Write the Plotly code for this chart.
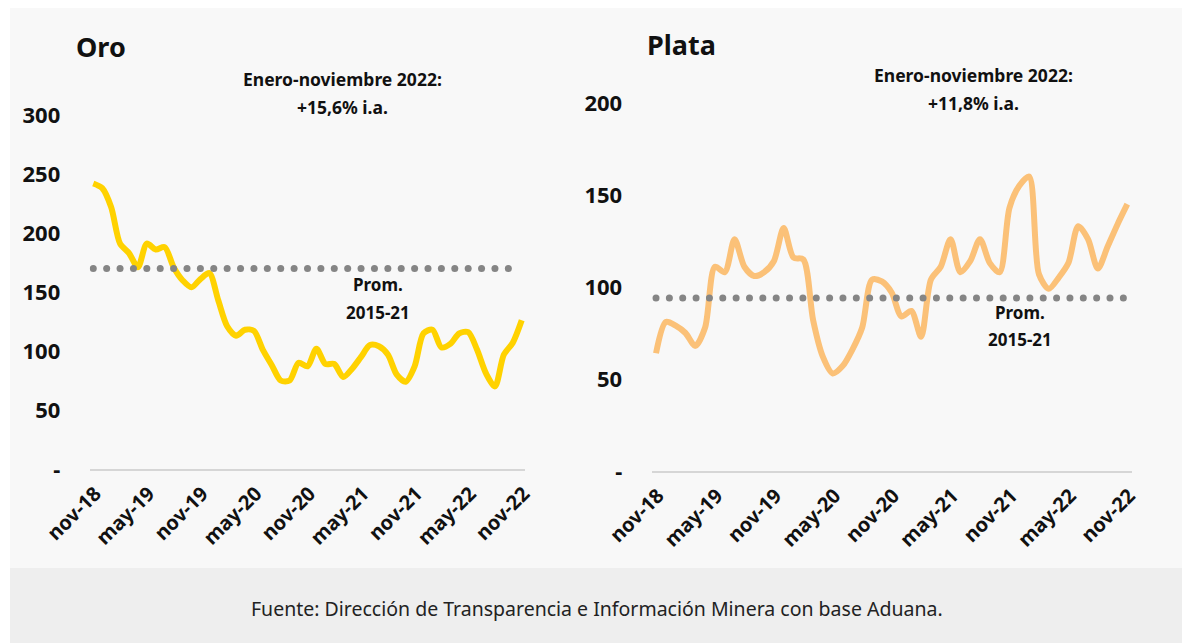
import numpy as np
import plotly.graph_objects as go

W, H = 1182, 643

# ---------------- data ----------------
mes_abbr = ["ene", "feb", "mar", "abr", "may", "jun", "jul", "ago", "sep", "oct", "nov", "dic"]
months = []
_y, _m = 2018, 10
for _ in range(49):
    months.append(f"{mes_abbr[_m]}-{str(_y)[2:]}")
    _m += 1
    if _m == 12:
        _m, _y = 0, _y + 1

oro = [242, 238, 222, 191, 183, 171, 191, 186, 188, 171, 160, 154, 161, 166, 143,
       121, 113, 118, 117, 101, 88, 75, 75, 90, 87, 102, 89, 89, 78, 85, 95, 105,
       104, 97, 80, 74, 87, 115, 118, 103, 106, 115, 116, 101, 81, 70, 97, 107, 126]
plata = [64, 81, 79, 75, 68, 78, 111, 108, 126, 111, 106, 108, 114, 132, 116, 115,
         82, 62, 53, 57, 66, 78, 104, 103, 97, 84, 87, 73, 104, 111, 126, 108, 114,
         126, 113, 108, 143, 155, 160, 107, 99, 105, 113, 133, 126, 110, 122, 134, 145]
prom_oro = 170
prom_plata = 94

oro_ticks = [0, 50, 100, 150, 200, 250, 300]
oro_ticktext = ["-", "50", "100", "150", "200", "250", "300"]
plata_ticks = [0, 50, 100, 150, 200]
plata_ticktext = ["-", "50", "100", "150", "200"]

# ---------------- helpers ----------------
def px(x):
    return x / W

def py(y):
    return 1 - y / H

idx = np.arange(len(months))
tickidx = idx[::6]
ticklab = [months[i] for i in tickidx]

BOLD = dict(family="Noto Sans", color="#111111", weight="bold")

fig = go.Figure()

fig.add_trace(go.Scatter(x=idx, y=oro, mode="lines", xaxis="x", yaxis="y",
                         line=dict(color="#FFD200", width=6, shape="spline", smoothing=0.8),
                         hoverinfo="skip", showlegend=False))
dots_l = np.arange(0, 46.6, 1.5)
fig.add_trace(go.Scatter(x=dots_l, y=[prom_oro] * len(dots_l), mode="markers", xaxis="x", yaxis="y",
                         marker=dict(color="#858585", size=7), hoverinfo="skip", showlegend=False))

fig.add_trace(go.Scatter(x=idx, y=plata, mode="lines", xaxis="x2", yaxis="y2",
                         line=dict(color="#FBC178", width=6, shape="spline", smoothing=0.8),
                         hoverinfo="skip", showlegend=False))
dots_r = np.linspace(0, 47.6, 36)
fig.add_trace(go.Scatter(x=dots_r, y=[prom_plata] * len(dots_r), mode="markers", xaxis="x2", yaxis="y2",
                         marker=dict(color="#858585", size=7), hoverinfo="skip", showlegend=False))

xcommon = dict(tickmode="array", tickvals=tickidx, ticktext=ticklab, tickangle=-45,
               tickfont=dict(size=20, **BOLD), showgrid=False, zeroline=False,
               showline=True, linecolor="#D6D6D6", linewidth=2, ticks="", automargin=False,
               ticklabelshift=2, ticklabelstandoff=3)
ycommon = dict(tickmode="array", showgrid=False, zeroline=False, showline=False,
               tickfont=dict(size=22, **BOLD), ticks="outside", ticklen=24,
               tickcolor="rgba(0,0,0,0)", automargin=False)

fig.update_layout(
    width=W, height=H, autosize=False,
    margin=dict(l=0, r=0, t=0, b=0, pad=0, autoexpand=False),
    paper_bgcolor="white",
    plot_bgcolor="rgba(0,0,0,0)",
    xaxis=dict(domain=[px(89.7), px(525.3)], range=[-0.4, 48.4], anchor="y", **xcommon),
    yaxis=dict(domain=[py(469), py(115)], range=[0, 300], anchor="x",
               tickvals=oro_ticks, ticktext=oro_ticktext, **ycommon),
    xaxis2=dict(domain=[px(651.6), px(1131.7)], range=[-0.45, 48.45], anchor="y2", **xcommon),
    yaxis2=dict(domain=[py(471), py(103)], range=[0, 200], anchor="x2",
                tickvals=plata_ticks, ticktext=plata_ticktext, **ycommon),
    shapes=[
        dict(type="rect", xref="paper", yref="paper", x0=px(10), x1=1, y0=py(568), y1=py(8),
             fillcolor="#F8F8F8", line=dict(width=0), layer="below"),
        dict(type="rect", xref="paper", yref="paper", x0=px(10), x1=1, y0=0, y1=py(568),
             fillcolor="#EEEEEE", line=dict(width=0), layer="below"),
    ],
)

def ann(text, x, y, size, bold=True, xanchor="center"):
    f = dict(size=size, **BOLD) if bold else dict(size=size, family="Noto Sans", color="#222222")
    fig.add_annotation(text=text, x=px(x), y=py(y), xref="paper", yref="paper",
                       xanchor=xanchor, yanchor="middle", showarrow=False, font=f)

ann("Oro", 74, 47, 27, xanchor="left")
ann("Plata", 645, 44, 27, xanchor="left")
ann("Enero-noviembre 2022:", 342, 79, 17.5)
ann("+15,6% i.a.", 342, 107, 17.5)
ann("Enero-noviembre 2022:", 973, 75, 17.5)
ann("+11,8% i.a.", 973, 103, 17.5)
ann("Prom.", 378, 284, 17)
ann("2015-21", 378, 312, 17)
ann("Prom.", 1020, 312, 17)
ann("2015-21", 1020, 340, 17)
ann("Fuente: Dirección de Transparencia e Información Minera con base Aduana.", 597, 608, 19.5, bold=False)

fig.write_html("out.html")
